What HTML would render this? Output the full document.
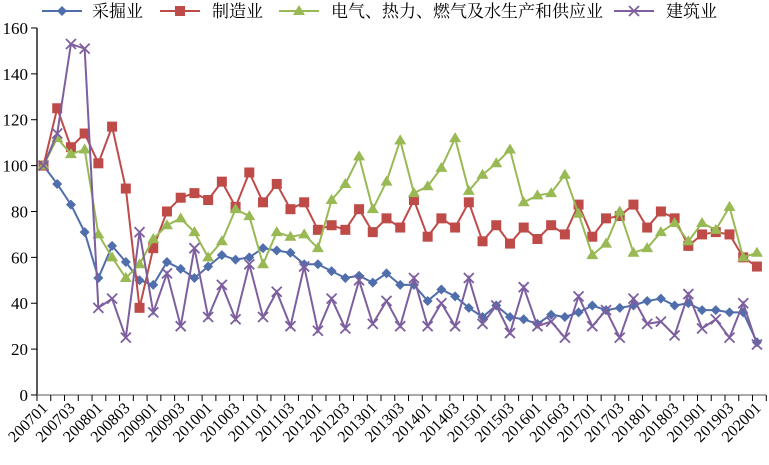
<!DOCTYPE html>
<html><head><meta charset="utf-8"><style>
html,body{margin:0;padding:0;background:#fff;}
svg{display:block;font-family:"Liberation Serif","Noto Serif CJK SC",serif;}
</style></head><body>
<svg id="c" width="769" height="465" viewBox="0 0 769 465" xmlns="http://www.w3.org/2000/svg"></svg>
<script>
const s=document.getElementById('c');const NS='http://www.w3.org/2000/svg';
function el(t,a,txt){const e=document.createElementNS(NS,t);for(const k in a)e.setAttribute(k,a[k]);if(txt!==undefined)e.textContent=txt;s.appendChild(e);return e;}
const X=i=>43.5+13.72*i, Y=v=>395-v*2.294;
el('line',{x1:37,y1:28,x2:37,y2:395,stroke:'#000','stroke-width':1.3});
el('line',{x1:37,y1:395,x2:766,y2:395,stroke:'#777','stroke-width':1.3});
for(let v=0;v<=160;v+=20){const y=Y(v);el('line',{x1:31,y1:y,x2:37,y2:y,stroke:'#000'});el('text',{x:28,y:y+6,'text-anchor':'end','font-size':17},String(v));}
const labs=[];for(let yr=2007;yr<=2020;yr++){labs.push(yr+'01');labs.push(yr+'03');}
for(let i=0;i<=53;i++){const x=37+i*13.76;el('line',{x1:x,y1:395,x2:x,y2:401,stroke:'#000'});}
for(let k=0;k<27;k++){const x=X(2*k)+5,y=409;el('text',{x:x,y:y,'text-anchor':'end','font-size':16,transform:`rotate(-45 ${x} ${y})`},labs[k]);}
const D={
b:[100,92,83,71,51,65,58,50,48,58,55,51,56,61,59,60,64,63,62,57,57,54,51,52,49,53,48,48,41,46,43,38,34,39,34,33,31,35,34,36,39,37,38,39,41,42,39,40,37,37,36,36,23],
r:[100,125,108,114,101,117,90,38,64,80,86,88,85,93,82,97,84,92,81,84,72,74,72,81,71,77,73,85,69,77,73,84,67,74,66,73,68,74,70,83,69,77,78,83,73,80,77,65,70,71,70,60,56],
g:[100,112,105,107,70,60,51,57,68,74,77,71,60,67,81,78,57,71,69,70,64,85,92,104,81,93,111,88,91,99,112,89,96,101,107,84,87,88,96,79,61,66,80,62,64,71,75,67,75,72,82,60,62],
p:[100,114,153,151,38,42,25,71,36,53,30,64,34,48,33,57,34,45,30,56,28,42,29,50,31,41,30,51,30,40,30,51,31,39,27,47,30,32,25,43,30,37,25,42,31,32,26,44,29,33,25,40,22]};
const C={b:'#4f6eab',r:'#be4b48',g:'#98b954',p:'#7d5f9f'};
function mk(k,x,y){const c=C[k];
 if(k=='b')el('polygon',{points:`${x},${y-5} ${x+5},${y} ${x},${y+5} ${x-5},${y}`,fill:c});
 if(k=='r')el('rect',{x:x-5,y:y-5,width:10,height:10,fill:c});
 if(k=='g')el('polygon',{points:`${x},${y-6} ${x+6},${y+4} ${x-6},${y+4}`,fill:c});
 if(k=='p'){el('line',{x1:x-5,y1:y-5,x2:x+5,y2:y+5,stroke:c,'stroke-width':1.8});el('line',{x1:x-5,y1:y+5,x2:x+5,y2:y-5,stroke:c,'stroke-width':1.8});}}
for(const k of ['b','r','g','p']){el('polyline',{points:D[k].map((v,i)=>X(i)+','+Y(v)).join(' '),fill:'none',stroke:C[k],'stroke-width':2});D[k].forEach((v,i)=>mk(k,X(i),Y(v)));}
const L=[['b',42,'采掘业',92],['r',160,'制造业',212],['g',279,'电气、热力、燃气及水生产和供应业',331],['p',614,'建筑业',666]];
for(const [k,x,t,tx] of L){el('line',{x1:x,y1:11,x2:x+40,y2:11,stroke:C[k],'stroke-width':2});mk(k,x+20,11);el('text',{x:tx,y:17,'font-size':17},t);}
</script>
</body></html>
